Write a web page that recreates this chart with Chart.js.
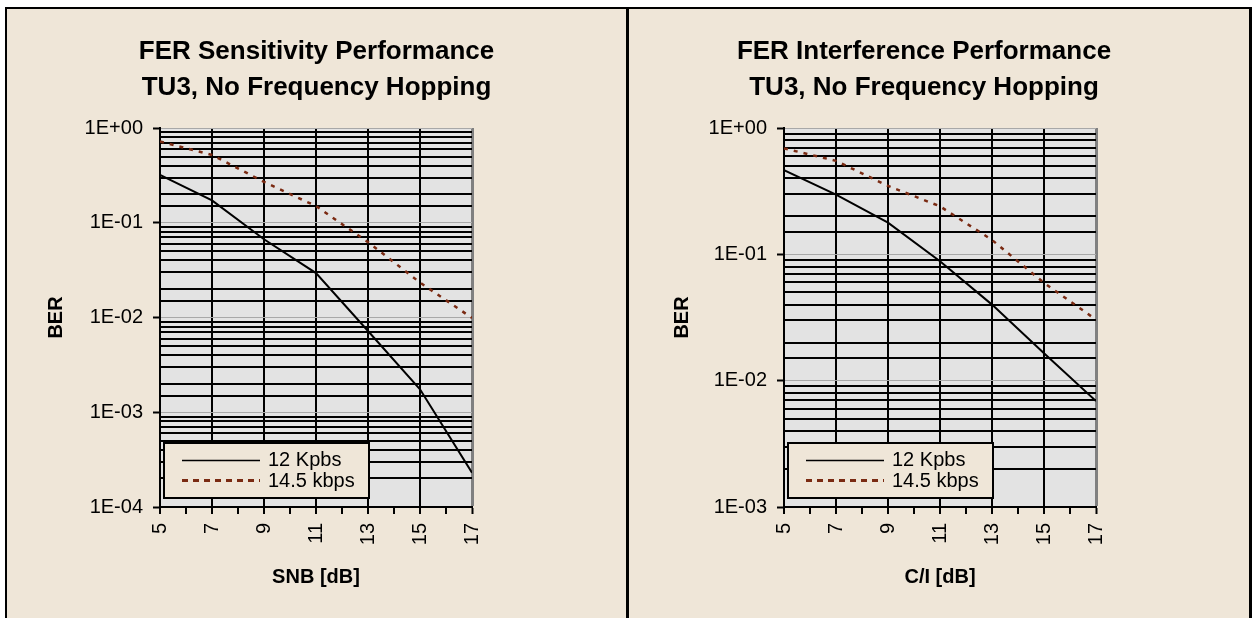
<!DOCTYPE html>
<html>
<head>
<meta charset="utf-8">
<title>FER Performance</title>
<script src="https://cdn.jsdelivr.net/npm/chart.js@4.4.0/dist/chart.umd.min.js"></script>
<style>
    html, body { margin: 0; padding: 0; background: #fff; }
    body { width: 1252px; height: 618px; position: relative; overflow: hidden; }
    #frame {
        position: absolute; left: 5px; top: 7px; width: 1242px; height: 611px;
        background: #EFE6D8;
        border-left: 2px solid #000; border-top: 2px solid #000; border-right: 3px solid #000;
    }
    #divider { position: absolute; left: 626px; top: 7px; width: 3px; height: 611px; background: #000; }
    .box { position: absolute; top: 9px; height: 609px; }
    #leftBox { left: 7px; width: 619px; }
    #rightBox { left: 629px; width: 590px; }
</style>
</head>
<body>
<div id="frame"></div>
<div id="divider"></div>
<div class="box" id="leftBox"><canvas id="sensChart"></canvas></div>
<div class="box" id="rightBox"><canvas id="interfChart"></canvas></div>

<script>
    // x values (dB)
    var snrValues = [5, 7, 9, 11, 13, 15, 17];
    var xTickLabels = ['5', '7', '9', '11', '13', '15', '17'];

    // FER sensitivity (SNB)
    var sens12 = [0.32, 0.172, 0.067, 0.0294, 0.0072, 0.00175, 0.00023];
    var sens145 = [0.72, 0.52, 0.27, 0.15, 0.0625, 0.0234, 0.0099];

    // FER interference (C/I)
    var interf12 = [0.464, 0.297, 0.178, 0.0883, 0.040, 0.0165, 0.0069];
    var interf145 = [0.69, 0.55, 0.348, 0.24, 0.13, 0.0595, 0.0304];

    var seriesLabels = ['12 Kpbs', '14.5 kbps'];
    var FONT = "Arial, 'Liberation Sans', sans-serif";

    function toPoints(ys) {
        var pts = [];
        for (var i = 0; i < snrValues.length; i++) {
            pts.push({x: snrValues[i], y: ys[i]});
        }
        return pts;
    }

    function isDecade(v) {
        var e = Math.log10(v);
        return Math.abs(e - Math.round(e)) < 1e-6;
    }

    function decadeLabel(v) {
        var e = Math.round(Math.log10(v));
        var s = String(Math.abs(e));
        if (s.length < 2) s = '0' + s;
        return '1E' + (e < 0 ? '-' : '+') + s;
    }

    // grey plot area
    var plotBg = {
        id: 'plotBg',
        beforeDraw: function (chart) {
            var a = chart.chartArea, ctx = chart.ctx;
            ctx.save();
            ctx.fillStyle = '#E3E3E3';
            ctx.fillRect(a.left, a.top, a.right - a.left, a.bottom - a.top);
            ctx.restore();
        }
    };

    // legend box sitting inside the plot, bottom-left
    var boxLegend = {
        id: 'boxLegend',
        afterDraw: function (chart) {
            var a = chart.chartArea, ctx = chart.ctx;
            var x = a.left + 4, y = a.bottom - 64, w = 205, h = 55;
            ctx.save();
            ctx.fillStyle = '#EFE6D8';
            ctx.fillRect(x, y, w, h);
            ctx.strokeStyle = '#000';
            ctx.lineWidth = 2;
            ctx.strokeRect(x, y, w, h);
            ctx.font = '20px ' + FONT;
            ctx.textBaseline = 'middle';
            var rows = [16.5, 37];
            chart.data.datasets.forEach(function (ds, i) {
                var ly = Math.round(y + rows[i]) + 0.5;
                ctx.beginPath();
                ctx.strokeStyle = ds.borderColor;
                ctx.lineWidth = i == 0 ? 1.5 : 3;
                ctx.setLineDash(i == 0 ? [] : [6, 5]);
                ctx.moveTo(x + 18, ly);
                ctx.lineTo(x + 96, ly);
                ctx.stroke();
                ctx.setLineDash([]);
                ctx.fillStyle = '#000';
                ctx.fillText(ds.label, x + 104, y + rows[i] + 1);
            });
            ctx.restore();
        }
    };

    function makeChart(id, opt) {
        var ctx = document.getElementById(id).getContext('2d');
        return new Chart(ctx, {
            type: 'line',
            data: {
                datasets: [{
                    label: seriesLabels[0],
                    data: toPoints(opt.s12),
                    borderColor: '#000000',
                    borderWidth: 2,
                    pointRadius: 0,
                    tension: 0
                }, {
                    label: seriesLabels[1],
                    data: toPoints(opt.s145),
                    borderColor: '#7A2A12',
                    borderWidth: 2.5,
                    borderDash: [4, 6],
                    pointRadius: 0,
                    tension: 0
                }]
            },
            options: {
                responsive: true,
                maintainAspectRatio: false,
                animation: false,
                layout: {padding: {left: 0, top: 0, right: 0, bottom: 11}},
                plugins: {
                    legend: {display: false},
                    tooltip: {enabled: false},
                    title: {
                        display: true,
                        text: opt.title,
                        color: '#000',
                        font: {family: FONT, size: 26, weight: 'bold', lineHeight: 1.385},
                        padding: {top: 25, bottom: 22}
                    }
                },
                scales: {
                    x: {
                        type: 'linear',
                        min: 5,
                        max: 17,
                        afterFit: function (s) { s.height = 100; },
                        ticks: {
                            stepSize: 1,
                            autoSkip: false,
                            minRotation: 90,
                            maxRotation: 90,
                            padding: 9,
                            color: '#000',
                            font: {family: FONT, size: 20},
                            callback: function (v) {
                                var i = snrValues.indexOf(v);
                                return i >= 0 ? xTickLabels[i] : '';
                            }
                        },
                        grid: {
                            color: function (c) {
                                if (!c.tick) return '#000';
                                if (c.tick.value == 17) return '#808080';
                                return c.tick.value % 2 ? '#000' : 'rgba(0,0,0,0)';
                            },
                            lineWidth: function (c) {
                                return c.tick && c.tick.value == 17 ? 3 : 2;
                            },
                            tickColor: '#000',
                            tickWidth: 2,
                            tickLength: 7
                        },
                        border: {display: true, color: '#000', width: 2},
                        title: {
                            display: true,
                            text: opt.xTitle,
                            color: '#000',
                            font: {family: FONT, size: 20, weight: 'bold', lineHeight: 1.2},
                            padding: {top: 0, bottom: 18}
                        }
                    },
                    y: {
                        type: 'logarithmic',
                        min: opt.yMin,
                        max: 1,
                        afterFit: function (s) { s.width = opt.yWidth; },
                        ticks: {
                            autoSkip: false,
                            padding: 10,
                            color: '#000',
                            font: {family: FONT, size: 20},
                            callback: function (v) {
                                return isDecade(v) ? decadeLabel(v) : '';
                            }
                        },
                        grid: {
                            color: function (c) {
                                if (!c.tick) return '#000';
                                return isDecade(c.tick.value) ? '#A8A8A8' : '#000';
                            },
                            lineWidth: function (c) {
                                if (!c.tick) return 2;
                                return isDecade(c.tick.value) ? 1 : 2;
                            },
                            tickColor: function (c) {
                                if (!c.tick) return '#000';
                                return isDecade(c.tick.value) ? '#000' : 'rgba(0,0,0,0)';
                            },
                            tickWidth: 2,
                            tickLength: 7
                        },
                        border: {display: true, color: '#000', width: 2},
                        title: {
                            display: true,
                            text: 'BER',
                            color: '#000',
                            font: {family: FONT, size: 20, weight: 'bold', lineHeight: 1.2},
                            padding: {top: opt.yTitlePad, bottom: 0}
                        }
                    },
                    // empty axis on the right, only reserves space so the title stays centred
                    spacer: {
                        type: 'linear',
                        position: 'right',
                        display: true,
                        afterFit: function (s) { s.width = opt.padRight; },
                        grid: {display: false, drawOnChartArea: false},
                        ticks: {display: false},
                        border: {display: false}
                    }
                }
            },
            plugins: [plotBg, boxLegend]
        });
    }

    makeChart('sensChart', {
        title: ['FER Sensitivity Performance', 'TU3, No Frequency Hopping'],
        xTitle: 'SNB [dB]',
        s12: sens12,
        s145: sens145,
        yMin: 1e-4,
        yWidth: 153,
        yTitlePad: 37,
        padRight: 154
    });

    makeChart('interfChart', {
        title: ['FER Interference Performance', 'TU3, No Frequency Hopping'],
        xTitle: 'C/I [dB]',
        s12: interf12,
        s145: interf145,
        yMin: 1e-3,
        yWidth: 155,
        yTitlePad: 41,
        padRight: 123
    });
</script>
</body>
</html>
